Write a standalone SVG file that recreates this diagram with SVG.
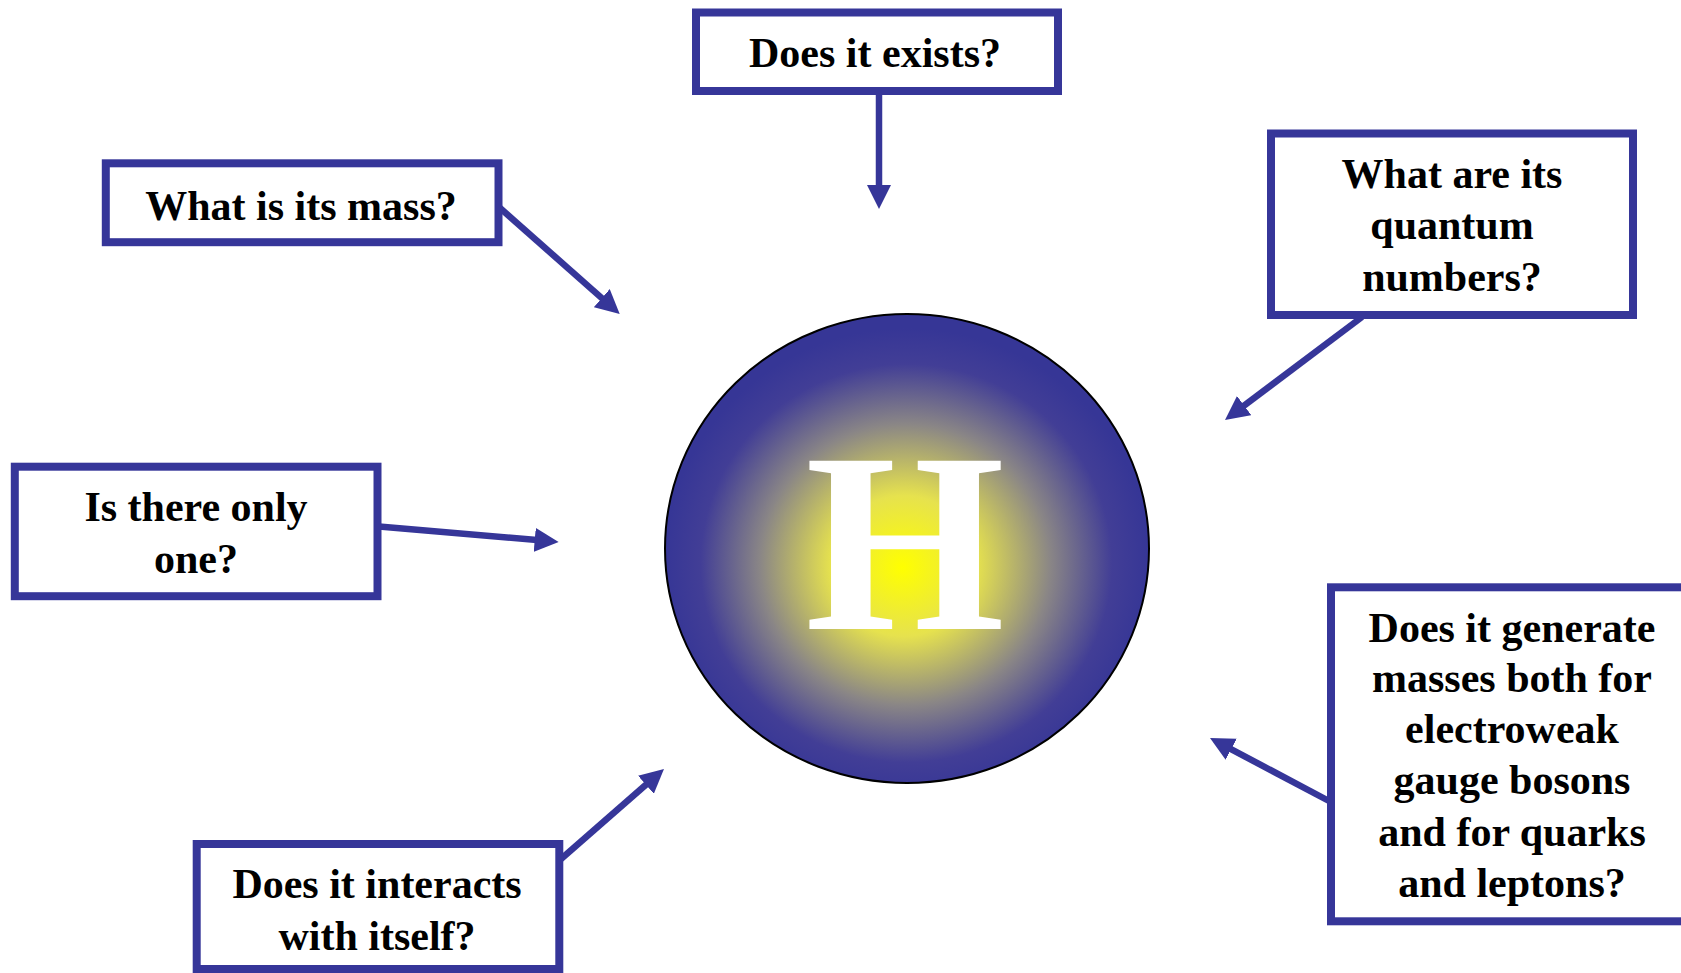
<svg xmlns="http://www.w3.org/2000/svg" width="1681" height="973" viewBox="0 0 1681 973">
<defs>
<radialGradient id="glow" cx="0.5" cy="0.53" r="0.5" fx="0.49" fy="0.54">
<stop offset="0" stop-color="#ffff00"/>
<stop offset="0.3" stop-color="#e6e24e"/>
<stop offset="0.6" stop-color="#8a8686"/>
<stop offset="0.85" stop-color="#423e96"/>
<stop offset="1" stop-color="#363696"/>
</radialGradient>
<marker id="ah" markerUnits="userSpaceOnUse" markerWidth="24" markerHeight="24" viewBox="0 0 24 24" refX="11" refY="12" orient="auto">
<path d="M0,0 L24,12 L0,24 z" fill="#363699"/>
</marker>
<style>
.box{fill:#fff;stroke:#363699;stroke-width:8}
.t{font-family:"Liberation Serif","Times New Roman",serif;font-weight:bold;font-size:42px;fill:#000;text-anchor:middle}
.c{stroke:#363699;stroke-width:6.5;fill:none;marker-end:url(#ah)}
</style>
</defs>
<rect width="1681" height="973" fill="#fff"/>
<g id="connectors">
<line class="c" x1="879" y1="91" x2="879" y2="196"/>
<line class="c" x1="500" y1="208" x2="610" y2="305.4"/>
<line class="c" x1="1362" y1="317" x2="1235.4" y2="412.2"/>
<line class="c" x1="379" y1="526.5" x2="545.7" y2="540.8"/>
<line class="c" x1="561" y1="859" x2="654.2" y2="777.5"/>
<line class="c" x1="1329" y1="801" x2="1221.5" y2="744.1"/>
</g>
<g id="higgs">
<ellipse cx="907" cy="548.5" rx="242" ry="234.5" fill="url(#glow)" stroke="#000" stroke-width="2"/>
<text x="905" y="629" font-family="'Liberation Serif','Times New Roman',serif" font-weight="bold" font-size="257" fill="#fff" text-anchor="middle">H</text>
</g>
<g id="n-exists">
<rect class="box" x="696" y="12.5" width="362" height="78.5"/>
<text class="t" x="875" y="67">Does it exists?</text>
</g>
<g id="n-mass">
<rect class="box" x="105.8" y="163.3" width="392.7" height="78.9"/>
<text class="t" x="301" y="219.5">What is its mass?</text>
</g>
<g id="n-quantum">
<rect class="box" x="1271" y="133.5" width="362" height="181.5"/>
<text class="t" x="1452" y="188">What are its</text>
<text class="t" x="1452" y="239">quantum</text>
<text class="t" x="1452" y="291">numbers?</text>
</g>
<g id="n-only">
<rect class="box" x="14.8" y="466.7" width="362.7" height="129.5"/>
<text class="t" x="196" y="521">Is there only</text>
<text class="t" x="196" y="573">one?</text>
</g>
<g id="n-self">
<rect class="box" x="196.7" y="844" width="362.6" height="125"/>
<text class="t" x="377" y="898">Does it interacts</text>
<text class="t" x="377" y="950">with itself?</text>
</g>
<g id="n-generate">
<rect class="box" x="1331" y="587.3" width="370" height="334"/>
<text class="t" x="1512" y="641.7">Does it generate</text>
<text class="t" x="1512" y="692">masses both for</text>
<text class="t" x="1512" y="743">electroweak</text>
<text class="t" x="1512" y="794">gauge bosons</text>
<text class="t" x="1512" y="846">and for quarks</text>
<text class="t" x="1512" y="897">and leptons?</text>
</g>
</svg>
